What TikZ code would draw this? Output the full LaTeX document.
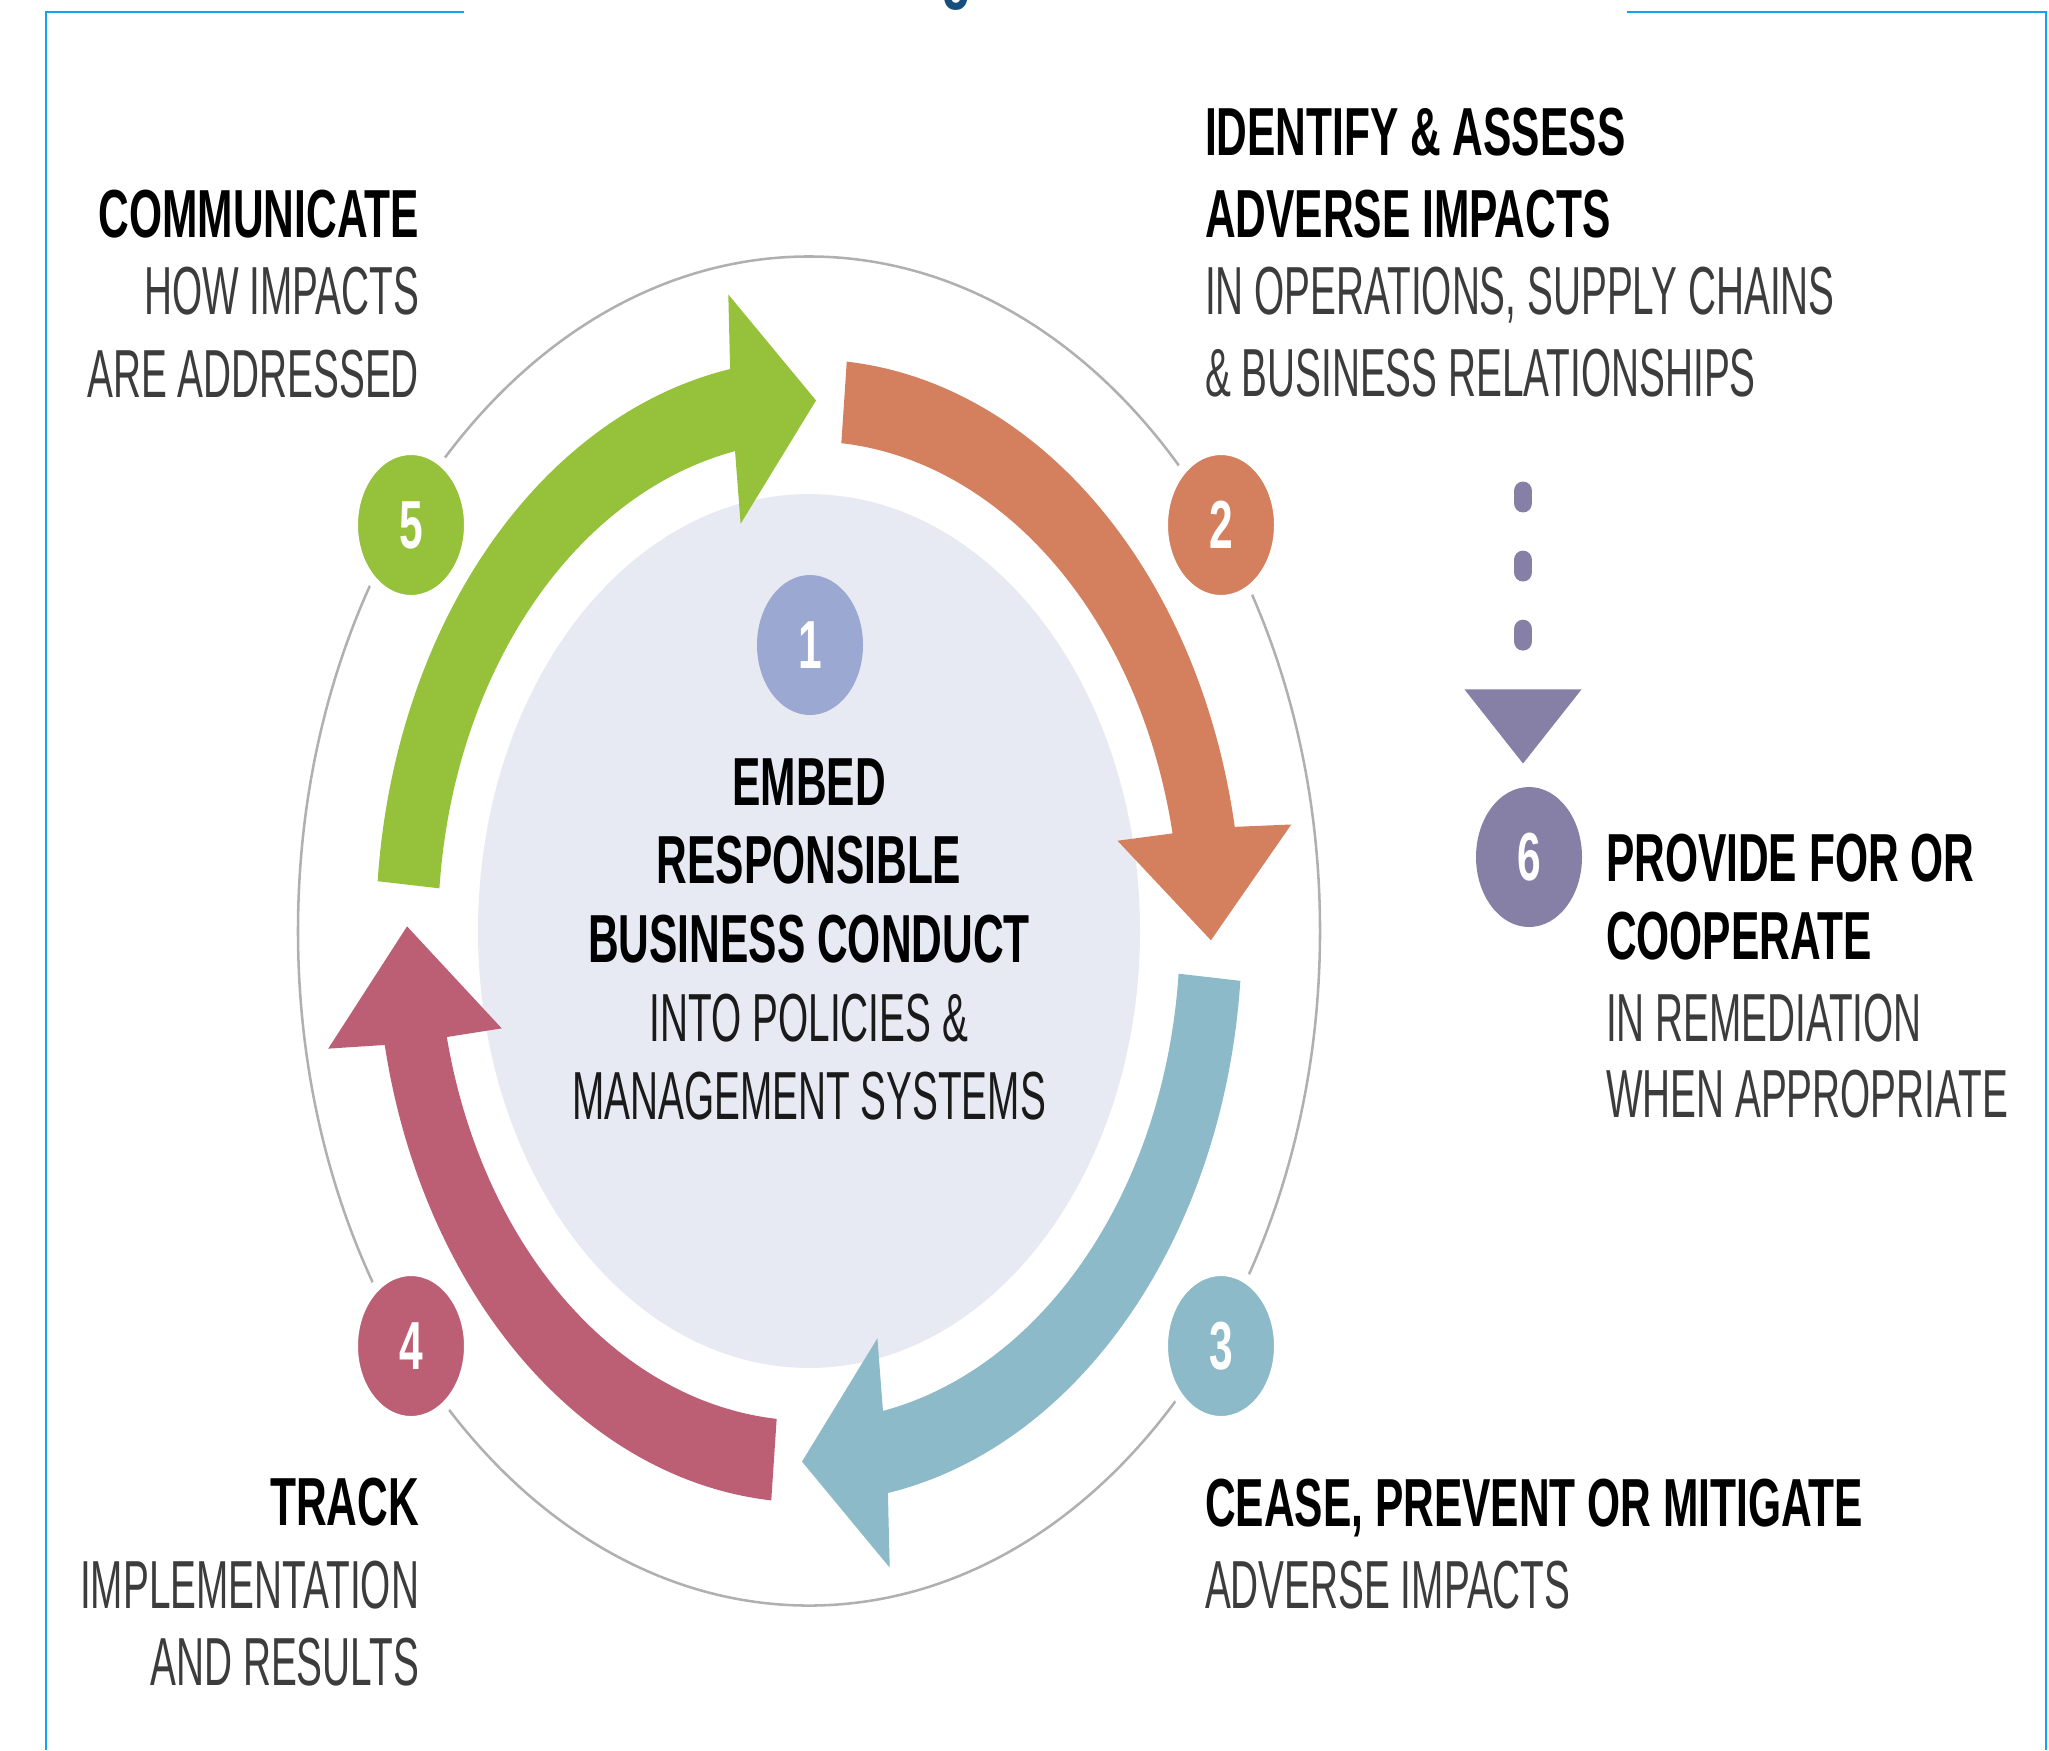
\documentclass[tikz,border=0pt]{standalone}
\usepackage{fontspec}
\usetikzlibrary{shapes.geometric,arrows.meta}

\newfontfamily\headfont{Liberation Sans}[FakeStretch=0.625]
\newfontfamily\notefont{Liberation Sans}[FakeStretch=0.57]

\definecolor{frameblue}{RGB}{18,163,235}
\definecolor{titleblue}{RGB}{22,78,125}
\definecolor{ringgrey}{RGB}{176,176,176}
\definecolor{corefill}{RGB}{232,234,243}
\definecolor{notegrey}{RGB}{60,60,60}
\definecolor{stepgreen}{RGB}{150,193,58}
\definecolor{steporange}{RGB}{212,128,94}
\definecolor{stepteal}{RGB}{140,186,200}
\definecolor{steprose}{RGB}{189,95,116}
\definecolor{stepblue}{RGB}{154,168,210}
\definecolor{stepviolet}{RGB}{135,128,166}

\tikzset{every picture/.style={line width=0.75pt}}
\tikzset{
	step head/.style={font=\headfont\bfseries\fontsize{25.5}{30}\selectfont, text=black, inner sep=0pt},
	step note/.style={font=\notefont\fontsize{25.5}{30}\selectfont, text=notegrey, inner sep=0pt},
	core note/.style={step note, text={rgb,255:red,26;green,26;blue,26}},
	badge/.style={ellipse, inner sep=0pt, minimum width=39.75pt, minimum height=52.5pt,
		text=white, font=\headfont\bfseries\fontsize{25.5}{30}\selectfont},
	ring badge/.style={badge, draw=white, line width=3.75pt, minimum width=43.5pt, minimum height=56.25pt},
	remedy link/.style={stepviolet, line width=7.1pt, line cap=round, dash pattern=on 4.5pt off 21.4pt,
		-{Triangle[width=42pt,length=28pt]}, shorten >=8.25pt}
}

\begin{document}
\begin{tikzpicture}[x=0.375pt,y=0.375pt,yscale=-1,xscale=1]
	\useasboundingbox (0,0) rectangle (2049,1750);

	%Straight Lines: frame
	\draw [frameblue, line width=1pt] (464,12) -- (46,12) -- (46,1750) ;
	\draw [frameblue, line width=1pt] (1627,12) -- (2046,12) -- (2046,1750) ;
	% Text Node: end of the heading above the frame
	\node [font=\headfont\bfseries\fontsize{30}{36}\selectfont, text=titleblue, anchor=base] (title tail) at (957,-7) {g};

	% ring, core and the four arc arrows, drawn round the centre of the cycle
	\begin{scope}[shift={(809,931)},yscale=-1.32]
		%Shape: Circle [ring]
		\draw [ringgrey, line width=0.95pt] (0,0) circle (511) ;
		%Shape: Circle [core]
		\fill [corefill] (0,0) circle (331) ;
		%Shape: Arc Arrow [communicate]
		\fill [stepgreen] (175:433) arc [start angle=175, end angle=100.5, radius=433] -- (99.5:489) -- (89:402)
			-- (102.5:316) -- (101.5:371) arc [start angle=101.5, end angle=175, radius=371] -- cycle ;
		%Shape: Arc Arrow [identify]
		\fill [steporange] (85:433) arc [start angle=85, end angle=10.5, radius=433] -- (9.5:489) -- (-1:402)
			-- (12.5:316) -- (11.5:371) arc [start angle=11.5, end angle=85, radius=371] -- cycle ;
		%Shape: Arc Arrow [cease]
		\fill [stepteal] (-5:433) arc [start angle=-5, end angle=-79.5, radius=433] -- (-80.5:489) -- (-91:402)
			-- (-77.5:316) -- (-78.5:371) arc [start angle=-78.5, end angle=-5, radius=371] -- cycle ;
		%Shape: Arc Arrow [track]
		\fill [steprose] (265:433) arc [start angle=265, end angle=191.5, radius=433] -- (190.5:489) -- (179.5:402)
			-- (193.5:316) -- (192.5:371) arc [start angle=192.5, end angle=265, radius=371] -- cycle ;
	\end{scope}

	%Shape: Badges
	\node [badge, fill=stepblue] (one) at (810,645) {1} ;
	\node [ring badge, fill=steporange] (two) at (1221,525) {2} ;
	\node [ring badge, fill=stepteal] (three) at (1221,1346) {3} ;
	\node [ring badge, fill=steprose] (four) at (411,1346) {4} ;
	\node [ring badge, fill=stepgreen] (five) at (411,525) {5} ;
	\node [badge, fill=stepviolet] (six) at (1529,857) {6} ;

	%Straight Lines: dotted link down to remediation
	\coordinate (remedy start) at (1523,491) ;
	\draw [remedy link] (remedy start) -- (remedy start |- six.north) ;

	% Text Node
	\node [step head, anchor=base east] (communicate) at (420,237) {COMMUNICATE};
	% Text Node
	\node [step note, anchor=base east] (communicate b) at (420,314) {HOW IMPACTS};
	% Text Node
	\node [step note, anchor=base east] (communicate c) at (420,397) {ARE ADDRESSED};

	% Text Node
	\node [step head, anchor=base west] (identify) at (1204,155) {IDENTIFY \& ASSESS};
	% Text Node
	\node [step head, anchor=base west] (identify b) at (1204,237) {ADVERSE IMPACTS};
	% Text Node
	\node [step note, anchor=base west] (identify c) at (1204,314) {IN OPERATIONS, SUPPLY CHAINS};
	% Text Node
	\node [step note, anchor=base west] (identify d) at (1204,396) {\& BUSINESS RELATIONSHIPS};

	% Text Node
	\node [step head, anchor=base] (embed) at (809,805) {EMBED};
	% Text Node
	\node [step head, anchor=base] (embed b) at (809,883) {RESPONSIBLE};
	% Text Node
	\node [step head, anchor=base] (embed c) at (809,962) {BUSINESS CONDUCT};
	% Text Node
	\node [core note, anchor=base] (embed d) at (809,1041) {INTO POLICIES \&};
	% Text Node
	\node [core note, anchor=base] (embed e) at (809,1119) {MANAGEMENT SYSTEMS};

	% Text Node
	\node [step head, anchor=base west] (remedy) at (1605,881) {PROVIDE FOR OR};
	% Text Node
	\node [step head, anchor=base west] (remedy b) at (1605,959) {COOPERATE};
	% Text Node
	\node [step note, anchor=base west] (remedy c) at (1605,1041) {IN REMEDIATION};
	% Text Node
	\node [step note, anchor=base west] (remedy d) at (1605,1117) {WHEN APPROPRIATE};

	% Text Node
	\node [step head, anchor=base east] (track) at (420,1525) {TRACK};
	% Text Node
	\node [step note, anchor=base east] (track b) at (420,1608) {IMPLEMENTATION};
	% Text Node
	\node [step note, anchor=base east] (track c) at (420,1685) {AND RESULTS};

	% Text Node
	\node [step head, anchor=base west] (cease) at (1204,1526) {CEASE, PREVENT OR MITIGATE};
	% Text Node
	\node [step note, anchor=base west] (cease b) at (1204,1608) {ADVERSE IMPACTS};

\end{tikzpicture}
\end{document}
